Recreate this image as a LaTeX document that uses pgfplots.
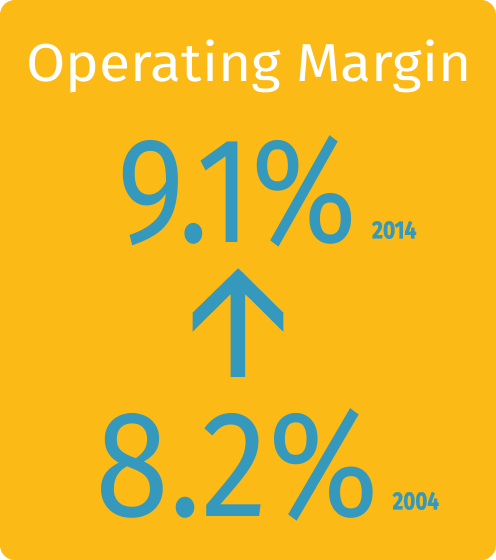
\documentclass[border=0pt]{standalone}
\usepackage{pgfplots}
\pgfplotsset{compat=1.18}
\usepackage{fontspec}
\setmainfont{Fira Sans}
\newfontfamily\yearfont[FakeBold=1.2]{Fira Sans}
\definecolor{panel}{HTML}{FBBA16}
\definecolor{numblue}{HTML}{3598BD}
\begin{document}
\begin{tikzpicture}
\begin{axis}[
  scale only axis, width=496bp, height=560bp,
  xmin=0, xmax=496, ymin=0, ymax=560, y dir=reverse,
  hide axis, clip=false]
% panel
\addplot[draw=none, fill=panel, rounded corners=15bp]
  coordinates {(0.5,0.5) (495.5,0.5) (495.5,559.5) (0.5,559.5)} -- cycle;
% arrow 2004 -> 2014
\addplot[draw=none, fill=numblue]
  coordinates {(238.3,268.3) (283.3,312.7) (283.3,331.7) (245.3,294)
               (245.3,376.7) (230.7,376.7) (230.7,294) (192.7,331.7)
               (192.7,312.7)} -- cycle;
% texts
\node[anchor=base west, inner sep=0pt, text=white] at (axis cs:26.7,82.3)
  {\resizebox{444bp}{41.6bp}{Operating Margin}};
\node[anchor=base west, inner sep=0pt, text=numblue] at (axis cs:118,242.7)
  {\resizebox{239bp}{106.7bp}{9.1\%}};
\node[anchor=base west, inner sep=0pt, text=numblue] at (axis cs:371.7,238.5)
  {\resizebox{44.3bp}{17.3bp}{\yearfont\bfseries 2014}};
\node[anchor=base west, inner sep=0pt, text=numblue] at (axis cs:96,516)
  {\resizebox{282bp}{107.7bp}{8.2\%}};
\node[anchor=base west, inner sep=0pt, text=numblue] at (axis cs:392.2,509)
  {\resizebox{46.3bp}{17.3bp}{\yearfont\bfseries 2004}};
\end{axis}
\end{tikzpicture}
\end{document}
